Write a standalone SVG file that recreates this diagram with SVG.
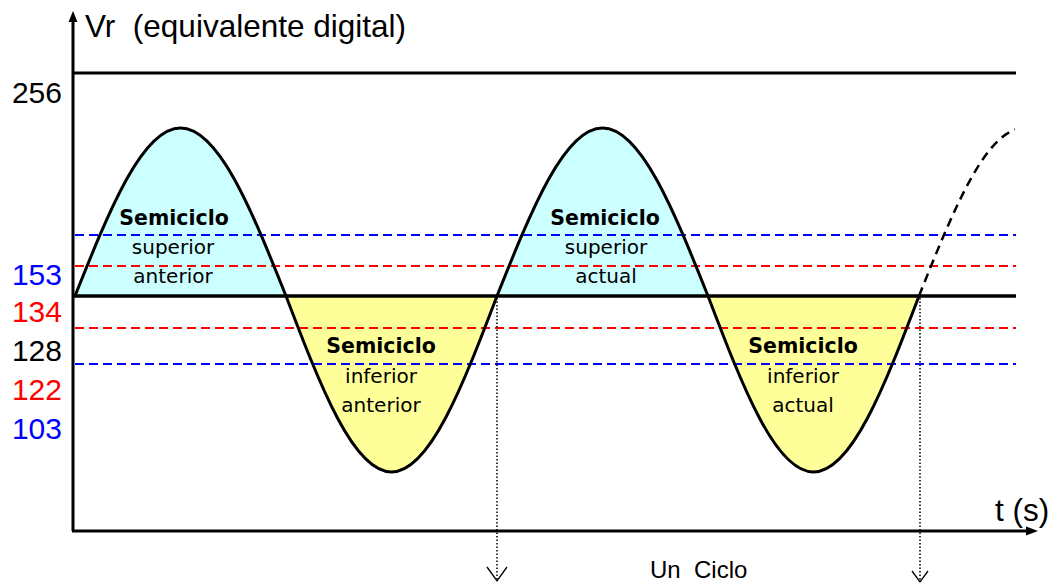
<svg xmlns="http://www.w3.org/2000/svg" width="1060" height="585" viewBox="0 0 1060 585">
<style>
.ax{stroke:#000;stroke-width:3;fill:none}
.dsh{stroke-width:2;stroke-dasharray:9 5;fill:none}
text{white-space:pre}
.big{font-family:"Liberation Sans",Arial,sans-serif;font-size:31.5px}
.num{font-family:"Liberation Sans",Arial,sans-serif;font-size:30px;text-anchor:end}
.b{font-family:"DejaVu Sans","Liberation Sans",sans-serif;font-size:20.5px;font-weight:bold;text-anchor:middle;fill:#000}
.r{font-family:"DejaVu Sans","Liberation Sans",sans-serif;font-size:20px;text-anchor:middle;fill:#000}
.dot{stroke:#000;stroke-width:1.5;stroke-dasharray:1.5 2;fill:none}
.vh{stroke:#000;stroke-width:1.3;fill:none}
</style>
<defs>
<clipPath id="clipR"><rect x="0" y="0" width="1015" height="585"/></clipPath>
</defs>
<g id="fills">
<path d="M75,296 C109.4,209.9 142.3,128 180.5,128 C218.7,128 251.6,209.9 286,296 Z" fill="#CCFFFF"/>
<path d="M286,296 C320.4,386.2 353.3,472 391.5,472 C429.7,472 462.6,386.2 497,296 Z" fill="#FFFF99"/>
<path d="M497,296 C531.4,209.9 564.3,128 602.5,128 C640.7,128 673.6,209.9 708,296 Z" fill="#CCFFFF"/>
<path d="M708,296 C742.4,386.2 775.3,472 813.5,472 C851.7,472 884.6,386.2 919,296 Z" fill="#FFFF99"/>
</g>
<g id="thresholds">
<line class="dsh" x1="75" y1="235" x2="1016" y2="235" stroke="#0000FF"/>
<line class="dsh" x1="75" y1="266" x2="1016" y2="266" stroke="#FF0000"/>
<line class="dsh" x1="75" y1="328" x2="1016" y2="328" stroke="#FF0000"/>
<line class="dsh" x1="75" y1="364" x2="1016" y2="364" stroke="#0000FF"/>
</g>
<g id="labels">
<text class="b" x="174" y="225">Semiciclo</text>
<text class="r" x="173" y="254">superior</text>
<text class="r" x="173" y="283">anterior</text>
<text class="b" x="605" y="225">Semiciclo</text>
<text class="r" x="606" y="254">superior</text>
<text class="r" x="606" y="283">actual</text>
<text class="b" x="381" y="353">Semiciclo</text>
<text class="r" x="381" y="383">inferior</text>
<text class="r" x="381" y="412">anterior</text>
<text class="b" x="803" y="353">Semiciclo</text>
<text class="r" x="803" y="383">inferior</text>
<text class="r" x="803" y="412">actual</text>
</g>
<g id="curve">
<path class="ax" d="M75,296 C109.4,209.9 142.3,128 180.5,128 C218.7,128 251.6,209.9 286,296 C320.4,386.2 353.3,472 391.5,472 C429.7,472 462.6,386.2 497,296 C531.4,209.9 564.3,128 602.5,128 C640.7,128 673.6,209.9 708,296 C742.4,386.2 775.3,472 813.5,472 C851.7,472 884.6,386.2 919,296"/>
<path clip-path="url(#clipR)" d="M919,296 C953.4,209.9 986.3,128 1024.5,128" stroke="#000" stroke-width="2.5" stroke-dasharray="9 6" fill="none"/>
</g>
<g id="axes">
<line class="ax" x1="73" y1="531" x2="73" y2="20"/>
<polygon points="73,11 68.5,22 77.5,22" fill="#000"/>
<line class="ax" x1="72" y1="531" x2="1028" y2="531"/>
<polygon points="1038,531 1026,526.5 1026,535.5" fill="#000"/>
<line class="ax" x1="73" y1="73" x2="1016" y2="73"/>
<line x1="73" y1="296" x2="1016" y2="296" stroke="#000" stroke-width="3.5"/>
</g>
<g id="connectors">
<line class="dot" x1="497" y1="298" x2="497" y2="580"/>
<polyline class="vh" points="487,567 497,581 507,567"/>
<line class="dot" x1="920" y1="298" x2="920" y2="580"/>
<polyline class="vh" points="912,571 920,582 928,571"/>
</g>
<g id="texts">
<text class="big" x="85" y="37" xml:space="preserve">Vr  (equivalente digital)</text>
<text class="num" x="62" y="103">256</text>
<text class="num" x="62" y="285" fill="#0000FF">153</text>
<text class="num" x="62" y="322" fill="#FF0000">134</text>
<text class="num" x="62" y="361" fill="#000">128</text>
<text class="num" x="62" y="400" fill="#FF0000">122</text>
<text class="num" x="62" y="439" fill="#0000FF">103</text>
<text class="big" x="995" y="521">t (s)</text>
<text x="650" y="578" font-family="Liberation Sans,Arial,sans-serif" font-size="24" xml:space="preserve">Un  Ciclo</text>
</g>
</svg>
